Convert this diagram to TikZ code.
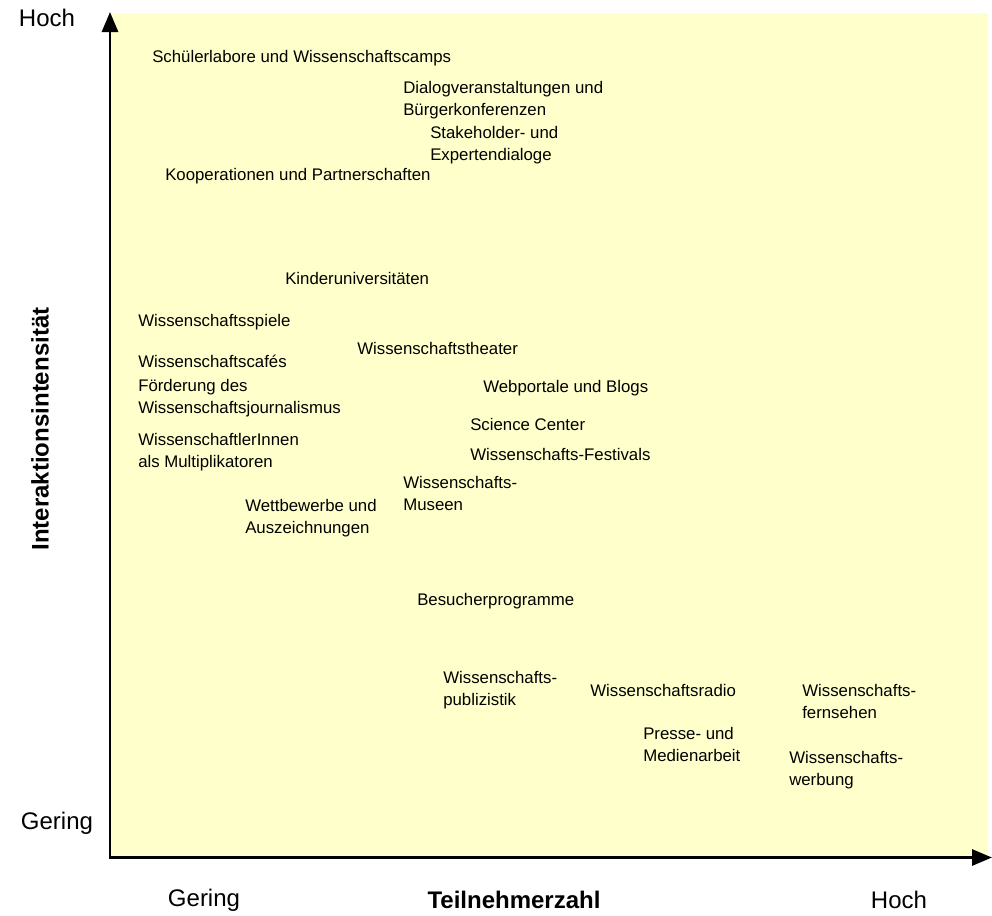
\documentclass[tikz,border=0pt]{standalone}
\usepackage{fontspec}
\setmainfont{Liberation Sans}
\usetikzlibrary{arrows.meta}
\definecolor{paleyellow}{HTML}{FFFFCC}
\begin{document}
\begin{tikzpicture}[x=0.75pt,y=-0.75pt,
  item/.style={anchor=west,align=left,inner sep=0pt,font=\fontsize{12.6}{16.5}\selectfont},
  axislabel/.style={inner sep=0pt,font=\fontsize{18}{20}\selectfont},
  axisline/.style={line width=2.2pt,-{Triangle[length=15pt,width=12pt]}}]
\useasboundingbox (0,0) rectangle (992,915);
\fill[paleyellow] (110,13) rectangle (988,858);
\coordinate (ystart) at (110,859);
\coordinate (ytop) at (110,12);
\coordinate (xstart) at (109,857.5);
\coordinate (xend) at (992,857.5);
\draw[axisline] (ystart) -- (ytop);
\draw[axisline] (xstart) -- (xend);
% axis labels
\node[axislabel] (yhigh) at (47,18) {Hoch};
\node[axislabel] (ylow) at (57,823) {Gering};
\node[axislabel] (xlow) at (204,900) {Gering};
\node[axislabel,font=\fontsize{18}{20}\selectfont\bfseries] (xtitle) at (514,900) {Teilnehmerzahl};
\node[axislabel] (xhigh) at (899,900) {Hoch};
\node[axislabel,font=\fontsize{18}{20}\selectfont\bfseries,rotate=90] (ytitle) at (40,429) {Interaktionsintensität};
% items
\begin{scope}[yshift=-1.5pt]
\node[item] (n1) at (152,56) {Schülerlabore und Wissenschaftscamps};
\node[item] (n2) at (403,98) {Dialogveranstaltungen und\\Bürgerkonferenzen};
\node[item] (n3) at (430,143.5) {Stakeholder- und\\Expertendialoge};
\node[item] (n4) at (165,174) {Kooperationen und Partnerschaften};
\node[item] (n5) at (285,276) {Kinderuniversitäten};
\node[item] (n6) at (138,320) {Wissenschaftsspiele};
\node[item] (n7) at (357,346) {Wissenschaftstheater};
\node[item] (n8) at (138,359) {Wissenschaftscafés};
\node[item] (n9) at (138,396) {Förderung des\\Wissenschaftsjournalismus};
\node[item] (n10) at (483,386) {Webportale und Blogs};
\node[item] (n11) at (470,422) {Science Center};
\node[item] (n12) at (138,450) {WissenschaftlerInnen\\als Multiplikatoren};
\node[item] (n13) at (470,452) {Wissenschafts-Festivals};
\node[item] (n14) at (403,491) {Wissenschafts-\\Museen};
\node[item] (n15) at (245,516) {Wettbewerbe und\\Auszeichnungen};
\node[item] (n16) at (417,599) {Besucherprogramme};
\node[item] (n17) at (443,688) {Wissenschafts-\\publizistik};
\node[item] (n18) at (590,688) {Wissenschaftsradio};
\node[item] (n19) at (802,699) {Wissenschafts-\\fernsehen};
\node[item] (n20) at (643,742) {Presse- und\\Medienarbeit};
\node[item] (n21) at (789,768) {Wissenschafts-\\werbung};
\end{scope}
\end{tikzpicture}
\end{document}
